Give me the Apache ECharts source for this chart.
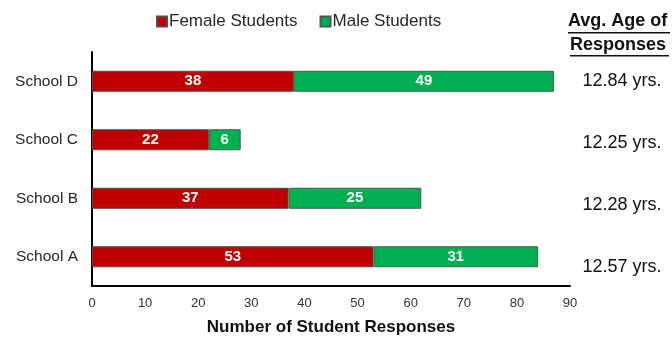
<!DOCTYPE html>
<html>
<head>
<meta charset="UTF-8">
<title>Student Responses</title>
<script type="text/javascript" src="https://cdn.jsdelivr.net/npm/echarts@6/dist/echarts.min.js"></script>
<style>body{margin:0;background:#fff;}</style>
</head>
<body>
<div id="box" style="width:672px;height:339px;"></div>

<script type="text/javascript">
// categories bottom to top
var schools = ['School A', 'School B', 'School C', 'School D'];
var female = [53, 37, 22, 38];
var male = [31, 25, 6, 49];
var avgAge = ['12.57 yrs.', '12.28 yrs.', '12.25 yrs.', '12.84 yrs.'];
// the age labels sit a little lower than the bars in the original
var ageShift = [20, 14, 6, 0];

var font = 'Liberation Sans, Arial, sans-serif';
var mychart = echarts.init(document.getElementById('box'));

var ageRich = {};
for (var i = 0; i < ageShift.length; i++) {
    ageRich['a' + i] = { fontSize: 18, color: '#111', fontFamily: font, padding: [ageShift[i], 0, 0, 0] };
}

mychart.setOption({
    animation: false,
    textStyle: { fontFamily: font },
    legend: {
        data: ['Female Students', 'Male Students'],
        left: 151, top: 8,
        itemWidth: 10, itemHeight: 10, itemGap: 22,
        icon: 'rect',
        textStyle: { fontSize: 17, color: '#262626', fontFamily: font, padding: [0, 0, 0, -3] }
    },
    grid: { left: 92, right: 102, top: 52, bottom: 53, outerBoundsMode: 'none', containLabel: false },
    xAxis: {
        type: 'value', min: 0, max: 90, interval: 10,
        name: 'Number of Student Responses',
        nameLocation: 'middle', nameGap: 33,
        nameTextStyle: { fontSize: 17, fontWeight: 'bold', color: '#111', fontFamily: font },
        axisLine: { show: true, lineStyle: { color: '#000', width: 2 } },
        axisTick: { show: false },
        splitLine: { show: false },
        axisLabel: { fontSize: 13, color: '#333', margin: 11, fontFamily: font }
    },
    yAxis: [{
        type: 'category', data: schools,
        axisLine: { show: true, lineStyle: { color: '#000', width: 2 } },
        axisTick: { show: false },
        axisLabel: { fontSize: 15.5, color: '#262626', margin: 14, fontFamily: font }
    }, {
        type: 'category', data: avgAge, position: 'right',
        axisLine: { show: false },
        axisTick: { show: false },
        axisLabel: {
            margin: 52, align: 'center', rich: ageRich,
            formatter: function (v, idx) { return '{a' + idx + '|' + v + '}'; }
        }
    }],
    series: [{
        name: 'Female Students', type: 'bar', stack: 'all', data: female,
        barWidth: 21,
        itemStyle: { color: '#C00000', borderColor: '#5a4a4a', borderWidth: 1 },
        label: { show: true, position: 'inside', color: '#fff', fontWeight: 'bold', fontSize: 15, fontFamily: font }
    }, {
        name: 'Male Students', type: 'bar', stack: 'all', data: male,
        barWidth: 21,
        itemStyle: { color: '#00B050', borderColor: '#4a5a4f', borderWidth: 1 },
        label: { show: true, position: 'inside', color: '#fff', fontWeight: 'bold', fontSize: 15, fontFamily: font }
    }],
    graphic: [
        { type: 'text', left: 568, top: 12,
          style: { text: 'Avg. Age of', fontSize: 18, fontWeight: 'bold', fill: '#111', fontFamily: font } },
        { type: 'rect', left: 568, top: 32, shape: { width: 102, height: 1.5 }, style: { fill: '#111' } },
        { type: 'text', left: 570, top: 36,
          style: { text: 'Responses', fontSize: 18, fontWeight: 'bold', fill: '#111', fontFamily: font } },
        { type: 'rect', left: 570, top: 55, shape: { width: 99, height: 1.5 }, style: { fill: '#111' } }
    ]
});
</script>
</body>
</html>
